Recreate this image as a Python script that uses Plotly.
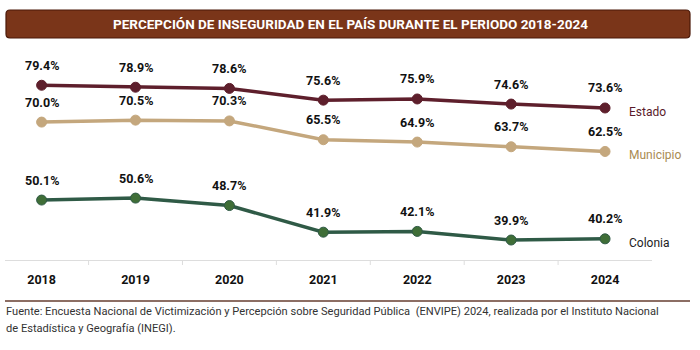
import plotly.graph_objects as go

years = ["2018", "2019", "2020", "2021", "2022", "2023", "2024"]
estado = [79.4, 78.9, 78.6, 75.6, 75.9, 74.6, 73.6]
municipio = [70.0, 70.5, 70.3, 65.5, 64.9, 63.7, 62.5]
colonia = [50.1, 50.6, 48.7, 41.9, 42.1, 39.9, 40.2]

series = [
    ("Estado", estado, "#5E1F2C", "#5E1F2C", "#5A1A2A"),
    ("Municipio", municipio, "#C4A77D", "#C4A77D", "#A98B52"),
    ("Colonia", colonia, "#2F5A46", "#3F6E37", "#222222"),
]

title = "PERCEPCIÓN DE INSEGURIDAD EN EL PAÍS DURANTE EL PERIODO 2018-2024"
source_lines = [
    "Fuente: Encuesta Nacional de Victimización y Percepción sobre Seguridad Pública  (ENVIPE) 2024, "
    "realizada por el Instituto Nacional",
    "de Estadística y Geografía (INEGI).",
]

W, H = 700, 350
FONT = "Roboto, Liberation Sans, sans-serif"

def px(x):
    return x / W

def py(y):
    return 1 - y / H

fig = go.Figure()
annotations = []
for name, vals, lc, mc, tc in series:
    fig.add_trace(go.Scatter(
        x=list(range(len(years))), y=vals, mode="lines+markers", name=name,
        line=dict(color=lc, width=3.5),
        marker=dict(color=mc, size=10, line=dict(color=lc, width=1)),
        hoverinfo="skip",
    ))
    for i, v in enumerate(vals):
        annotations.append(dict(
            x=i, y=v, xref="x", yref="y", text=f"<b>{v:.1f}%</b>", showarrow=False,
            yshift=20, font=dict(family=FONT, size=12.5, color="#111111"),
        ))
    annotations.append(dict(
        x=len(years) - 1, y=vals[-1], xref="x", yref="y", text=name, showarrow=False,
        xanchor="left", xshift=22, yshift=-4,
        font=dict(family=FONT, size=12, color=tc),
    ))

# title text
annotations.append(dict(
    x=0.5, y=py(24), xref="paper", yref="paper", text=f"<b>{title}</b>", showarrow=False,
    font=dict(family=FONT, size=13.5, color="white"), xanchor="center", yanchor="middle",
))
# footnote
for k, line in enumerate(source_lines):
    annotations.append(dict(
        x=px(4), y=py(311 + 17 * k), xref="paper", yref="paper", text=line, showarrow=False,
        xanchor="left", yanchor="middle", align="left",
        font=dict(family=FONT, size=11.1, color="#333333"),
    ))

# rounded title box
x0, x1, y0, y1, r = 6, 690, 10, 38, 4
path = (f"M {px(x0+r)},{py(y0)} L {px(x1-r)},{py(y0)} Q {px(x1)},{py(y0)} {px(x1)},{py(y0+r)} "
        f"L {px(x1)},{py(y1-r)} Q {px(x1)},{py(y1)} {px(x1-r)},{py(y1)} "
        f"L {px(x0+r)},{py(y1)} Q {px(x0)},{py(y1)} {px(x0)},{py(y1-r)} "
        f"L {px(x0)},{py(y0+r)} Q {px(x0)},{py(y0)} {px(x0+r)},{py(y0)} Z")
shapes = [
    dict(type="path", path=path, xref="paper", yref="paper",
         fillcolor="#7A3519", line=dict(color="#4A1808", width=1.2), layer="below"),
    dict(type="line", x0=px(5), x1=px(690), y0=py(301), y1=py(301), xref="paper", yref="paper",
         line=dict(color="#8C6E64", width=2)),
]

fig.update_layout(
    width=W, height=H, margin=dict(l=0, r=0, t=0, b=0),
    paper_bgcolor="white", plot_bgcolor="white", showlegend=False,
    annotations=annotations, shapes=shapes,
    xaxis=dict(domain=[px(5), px(652)], range=[-0.39, 6.5],
               tickmode="array", tickvals=list(range(len(years))),
               ticktext=[f"<b>{y}</b>" for y in years],
               showgrid=False, showline=True, linecolor="#DDDDDD", linewidth=1,
               ticks="", tickfont=dict(family=FONT, size=12.5, color="#111111"),
               ticklabelstandoff=8, zeroline=False),
    yaxis=dict(domain=[py(260), py(50)], range=[34.8, 88.4], showgrid=False,
               showline=False, showticklabels=False, zeroline=False, ticks=""),
)
# boundary ticks between categories
for b in [k + 0.5 for k in range(len(years) - 1)]:
    fig.add_shape(type="line", x0=b, x1=b, xref="x", y0=py(260), y1=py(265), yref="paper",
                  line=dict(color="#DDDDDD", width=1))

fig.write_html("out.html")
